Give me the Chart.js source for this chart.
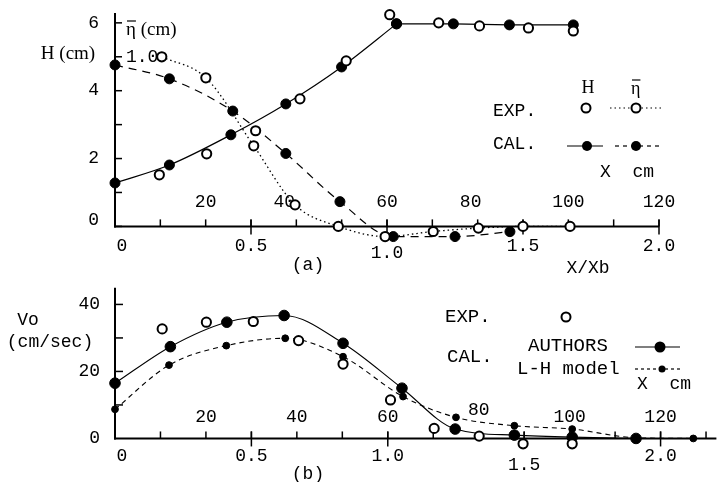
<!DOCTYPE html>
<html><head><meta charset="utf-8">
<script src="https://cdn.jsdelivr.net/npm/chart.js@4/dist/chart.umd.min.js"></script>
<style>
html,body{margin:0;padding:0;background:#fff;width:719px;height:482px;overflow:hidden}
.c{position:absolute;left:0;top:0;width:719px;height:482px}
</style></head><body>
<div class="c"><canvas id="ca" width="719" height="482"></canvas></div>
<div class="c"><canvas id="cb" width="719" height="482"></canvas></div>
<script>
// ---------- panel (a): wave height H and mean water level eta ----------
const hExpX   = [0.163, 0.337, 0.517, 0.68, 0.85, 1.01, 1.19, 1.34, 1.52, 1.685];
const hExpY   = [1.52, 2.14, 2.82, 3.76, 4.88, 6.24, 6.0, 5.91, 5.85, 5.76];
const hCalX   = [0, 0.2, 0.426, 0.628, 0.833, 1.035, 1.244, 1.45, 1.685];
const hCalY   = [1.28, 1.81, 2.70, 3.61, 4.70, 5.97, 5.97, 5.94, 5.94];
const etaExpX = [0.172, 0.334, 0.51, 0.662, 0.821, 0.993, 1.17, 1.336, 1.5, 1.673];
const etaExpY = [1.0, 0.876, 0.475, 0.127, 0, -0.06, -0.03, -0.01, 0, 0];
const etaCalX = [0, 0.2, 0.433, 0.628, 0.827, 1.023, 1.25, 1.452];
const etaCalY = [0.952, 0.87, 0.68, 0.43, 0.146, -0.06, -0.06, -0.031];

// ---------- panel (b): Vo ----------
const vExpX  = [0.173, 0.335, 0.507, 0.673, 0.836, 1.01, 1.17, 1.335, 1.496, 1.676];
const vExpY  = [32.7, 34.7, 34.9, 29.2, 22.2, 11.5, 3.0, 0.7, -1.6, -1.6];
const vAuthX = [0, 0.203, 0.41, 0.62, 0.836, 1.052, 1.247, 1.464, 1.676, 1.91];
const vAuthY = [16.5, 27.4, 34.7, 36.7, 28.4, 15.0, 2.8, 1.0, 0.4, 0];
const vLhX   = [0, 0.198, 0.408, 0.624, 0.836, 1.056, 1.25, 1.464, 1.676, 1.91, 2.12];
const vLhY   = [8.7, 21.9, 27.7, 29.9, 24.4, 12.5, 6.3, 3.8, 2.8, 0.2, 0];

// ---------- tick labels ----------
const hTicks   = [0, 2, 4, 6];
const hMinor   = [0, 1, 2, 3, 4, 5, 6];
const etaTicks = [1.0];
const xbTicks  = [0, 0.5, 1.0, 1.5, 2.0];
const cmTicks  = [20, 40, 60, 80, 100, 120];
const vTicks   = [0, 20, 40];
const vMinor   = [10, 20, 30, 40];

const XB_CM = 60;        // Xb in cm (X/Xb = 1.0 <-> 60 cm)
const ETA_PER_H = 0.2;   // eta axis: 1.0 cm drawn where H = 5 cm
const H_BREAK = 5;       // index where breaking H curve turns flat

const MONO = '"Liberation Mono", "DejaVu Sans Mono", monospace';
const SERIF = '"Liberation Serif", "DejaVu Serif", serif';

function mk(xs, ys){ return xs.map((x,i)=>({x:x, y:ys[i]})); }
function ln(ctx,x1,y1,x2,y2){ ctx.beginPath(); ctx.moveTo(x1,y1); ctx.lineTo(x2,y2); ctx.stroke(); }
function openC(ctx,x,y,r){ ctx.save(); ctx.setLineDash([]); ctx.fillStyle='#fff'; ctx.lineWidth=2; ctx.beginPath(); ctx.arc(x,y,r,0,Math.PI*2); ctx.fill(); ctx.stroke(); ctx.restore(); }
function fillC(ctx,x,y,r){ ctx.save(); ctx.fillStyle='#000'; ctx.beginPath(); ctx.arc(x,y,r,0,Math.PI*2); ctx.fill(); ctx.restore(); }
function txt(ctx,s,x,y,font,align){ ctx.font=font; ctx.textAlign=align||'center'; ctx.textBaseline='middle'; ctx.fillText(s,x,y); }
function etaTxt(ctx,s,x,y,font){ // eta with overbar
  ctx.font=font; ctx.textAlign='left'; ctx.textBaseline='middle';
  const w=ctx.measureText('\u03B7').width;
  ctx.fillText('\u03B7'+s,x,y);
  ctx.save(); ctx.lineWidth=1.2; ln(ctx,x+1,y-9,x+w,y-9); ctx.restore();
}

const fmtXb = v => v===0 ? '0' : v.toFixed(1);

// ---------- panel (a) axes + legend ----------
const axesA = {
  id:'axesA',
  beforeDatasetsDraw(chart){
    const ctx=chart.ctx, sx=chart.scales.x, sc=chart.scales.xcm, sy=chart.scales.y, se=chart.scales.eta;
    const x0=sx.getPixelForValue(0), y0=sy.getPixelForValue(0);
    ctx.save(); ctx.strokeStyle='#000'; ctx.fillStyle='#000';
    ctx.lineWidth=2;
    ln(ctx,x0,sy.top+1,x0,y0+1);
    ln(ctx,x0-1,y0,sx.getPixelForValue(2.0),y0);
    ctx.lineWidth=1.5;
    hMinor.forEach(v=>{const y=sy.getPixelForValue(v); ln(ctx,x0,y,x0+7,y);});
    xbTicks.slice(1).forEach(v=>{const x=sx.getPixelForValue(v); ln(ctx,x,y0-7,x,y0+8);});
    for(let c=10;c<=120;c+=10){const x=sc.getPixelForValue(c); ln(ctx,x,y0,x,y0-7);}
    const F = '18px '+MONO;
    hTicks.forEach(v=>{ txt(ctx,String(v),99,Math.min(sy.getPixelForValue(v),y0-6),F,'right'); });
    etaTicks.forEach(v=>{ txt(ctx,v.toFixed(1),x0+11,se.getPixelForValue(v),F,'left'); });
    xbTicks.forEach(v=>{ txt(ctx,fmtXb(v),sx.getPixelForValue(v)+(v===0?7:0),y0+19.5+(v===1.0?7:0),F); });
    cmTicks.forEach(v=>{ txt(ctx,String(v),sc.getPixelForValue(v)-(v===40?12:0)-(v===80?7:0),y0-24,F); });
    txt(ctx,'H (cm)',68,54,'19px '+SERIF);
    etaTxt(ctx,' (cm)',126,30,'19px '+SERIF);
    txt(ctx,'(a)',308,265,F);
    txt(ctx,'X/Xb',588,268,F);
    // legend
    txt(ctx,'H',588,88,'18px '+SERIF);
    etaTxt(ctx,'',631,89,'18px '+SERIF);
    txt(ctx,'EXP.',493,111,F,'left');
    txt(ctx,'CAL.',493,144,F,'left');
    txt(ctx,'X  cm',600,172,F,'left');
    ctx.lineWidth=1.2;
    ctx.setLineDash([1.5,3]); ln(ctx,610,108,662,108);
    ctx.setLineDash([]); ln(ctx,567,146,603,146);
    ctx.setLineDash([4,4]); ln(ctx,615,146,662,146);
    ctx.setLineDash([]);
    openC(ctx,586,108,4.5); openC(ctx,636,108,4.5);
    fillC(ctx,587,146,5); fillC(ctx,636,146,5);
    ctx.restore();
  }
};

// ---------- panel (b) axes + legend ----------
const axesB = {
  id:'axesB',
  beforeDatasetsDraw(chart){
    const ctx=chart.ctx, sx=chart.scales.x, sc=chart.scales.xcm, sy=chart.scales.y;
    const x0=sx.getPixelForValue(0), y0=sy.getPixelForValue(0);
    ctx.save(); ctx.strokeStyle='#000'; ctx.fillStyle='#000';
    ctx.lineWidth=2;
    ln(ctx,x0,sy.getPixelForValue(45),x0,y0+1);
    ln(ctx,x0-1,y0,sx.right+4,y0);
    ctx.lineWidth=1.5;
    vMinor.forEach(v=>{const y=sy.getPixelForValue(v); ln(ctx,x0,y,x0+8,y);});
    xbTicks.slice(1).forEach(v=>{const x=sx.getPixelForValue(v); ln(ctx,x,y0-7,x,y0+8);});
    for(let c=10;c<=130;c+=10){const x=sc.getPixelForValue(c); ln(ctx,x,y0,x,y0-7);}
    const F = '18px '+MONO;
    vTicks.forEach(v=>{ txt(ctx,String(v),100,sy.getPixelForValue(v),F,'right'); });
    xbTicks.forEach(v=>{ txt(ctx,fmtXb(v),sx.getPixelForValue(v)+(v===0?7:0),y0+17.5+(v===1.5?9:0),F); });
    cmTicks.forEach(v=>{ txt(ctx,String(v),sc.getPixelForValue(v),y0-21.5-(v===80?7:0),F); });
    txt(ctx,'Vo',28,320,F);
    txt(ctx,'(cm/sec)',50,342,F);
    txt(ctx,'(b)',308,474,F);
    // legend
    const L = '19px '+MONO;
    txt(ctx,'EXP.',445,317,L,'left');
    txt(ctx,'AUTHORS',528,346,L,'left');
    txt(ctx,'CAL.',447,357,L,'left');
    txt(ctx,'L-H model',517,369,L,'left');
    txt(ctx,'X  cm',637,384,F,'left');
    ctx.lineWidth=1.2;
    ctx.setLineDash([]); ln(ctx,635,347,680,347);
    ctx.setLineDash([3,3]); ln(ctx,635,369,682,369);
    ctx.setLineDash([]);
    openC(ctx,566,317,4.5);
    fillC(ctx,660,347,5.5); fillC(ctx,662,369,3.5);
    ctx.restore();
  }
};

const base = (pad) => ({
  responsive:false, animation:false, events:[],
  layout:{padding:pad},
  plugins:{legend:{display:false}, tooltip:{enabled:false}, title:{display:false}}
});

// panel (a)
const hMin=-0.46, hMax=6.32, xbMaxA=2.0;
const optA = base({left:115,right:60,top:12,bottom:240});
optA.scales = {
  x:{type:'linear',min:0,max:xbMaxA,display:false},
  xcm:{type:'linear',axis:'x',min:0,max:xbMaxA*XB_CM,display:false},
  y:{type:'linear',min:hMin,max:hMax,display:false},
  eta:{type:'linear',axis:'y',min:hMin*ETA_PER_H,max:hMax*ETA_PER_H,display:false}
};
const common = {borderColor:'#000', pointBorderColor:'#000', fill:false, clip:false, cubicInterpolationMode:'monotone', xAxisID:'x'};
new Chart(document.getElementById('ca'), {
  type:'line',
  data:{datasets:[
    Object.assign({}, common, {label:'H EXP', data:mk(hExpX,hExpY), yAxisID:'y', showLine:false,
      pointRadius:4.6, pointBackgroundColor:'#fff', pointBorderWidth:2}),
    Object.assign({}, common, {label:'eta EXP', data:mk(etaExpX,etaExpY), yAxisID:'eta', borderWidth:1.3, borderDash:[1.5,3],
      pointRadius:4.6, pointBackgroundColor:'#fff', pointBorderWidth:2}),
    // H CAL: rising (shoaling) branch, curved
    Object.assign({}, common, {label:'H CAL', data:mk(hCalX.slice(0,H_BREAK+1),hCalY.slice(0,H_BREAK+1)), yAxisID:'y', borderWidth:1.2,
      pointRadius:5, pointBackgroundColor:'#000', pointBorderWidth:1}),
    // H CAL: flat branch after the break
    Object.assign({}, common, {label:'H CAL (after break)', data:mk(hCalX.slice(H_BREAK),hCalY.slice(H_BREAK)), yAxisID:'y', borderWidth:1.2,
      tension:0, cubicInterpolationMode:'default', pointRadius:5, pointBackgroundColor:'#000', pointBorderWidth:1}),
    Object.assign({}, common, {label:'eta CAL', data:mk(etaCalX,etaCalY), yAxisID:'eta', borderWidth:1.2, borderDash:[8,6],
      pointRadius:5, pointBackgroundColor:'#000', pointBorderWidth:1})
  ]},
  options:optA,
  plugins:[axesA]
});

// panel (b)
const vMin=-3, vMax=45.8, xbMaxB=2.19;
const optB = base({left:115,right:4,top:285,bottom:33.5});
optB.scales = {
  x:{type:'linear',min:0,max:xbMaxB,display:false},
  xcm:{type:'linear',axis:'x',min:0,max:xbMaxB*XB_CM,display:false},
  y:{type:'linear',min:vMin,max:vMax,display:false}
};
new Chart(document.getElementById('cb'), {
  type:'line',
  data:{datasets:[
    Object.assign({}, common, {label:'EXP.', data:mk(vExpX,vExpY), yAxisID:'y', showLine:false,
      pointRadius:4.6, pointBackgroundColor:'#fff', pointBorderWidth:2}),
    Object.assign({}, common, {label:'AUTHORS', data:mk(vAuthX,vAuthY), yAxisID:'y', borderWidth:1.1,
      pointRadius:5.3, pointBackgroundColor:'#000', pointBorderWidth:1}),
    Object.assign({}, common, {label:'L-H model', data:mk(vLhX,vLhY), yAxisID:'y', borderWidth:1.1, borderDash:[5,4],
      pointRadius:3.4, pointBackgroundColor:'#000', pointBorderWidth:1})
  ]},
  options:optB,
  plugins:[axesB]
});
</script>
</body></html>
